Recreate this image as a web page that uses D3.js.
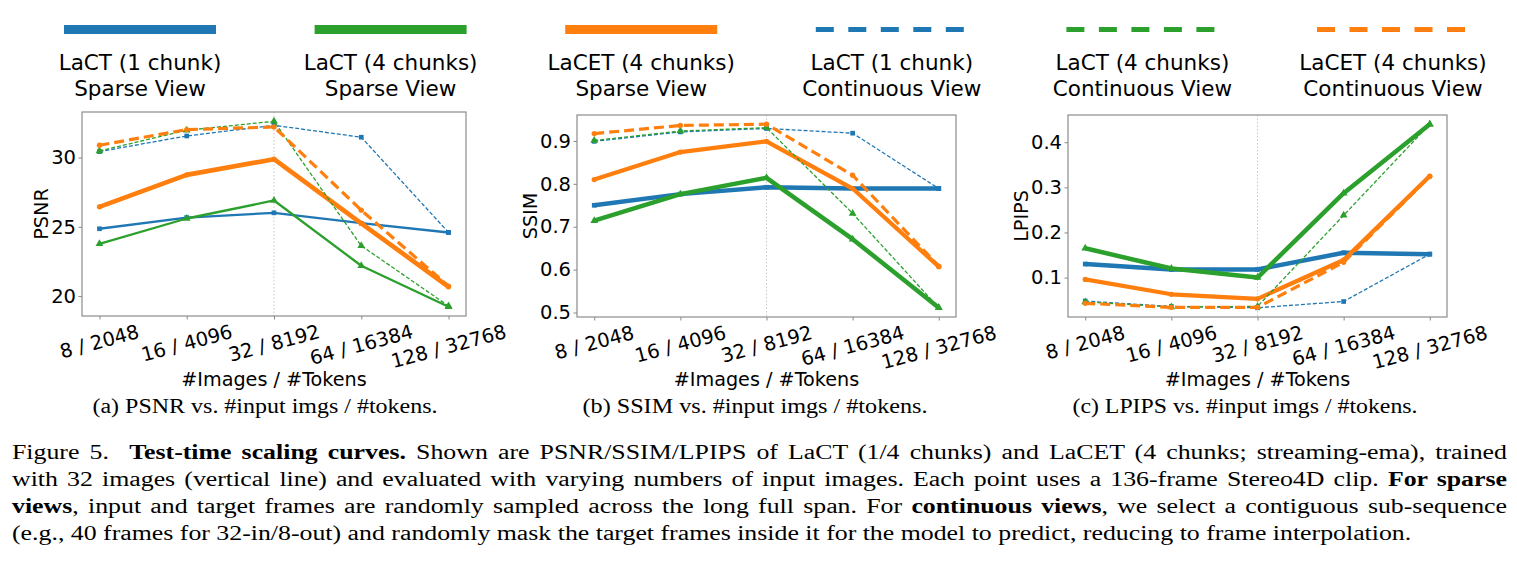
<!DOCTYPE html>
<html>
<head>
<meta charset="utf-8">
<script src="https://cdn.jsdelivr.net/npm/d3@7"></script>
<style>
  body { margin: 0; background: #fff; }
  svg { display: block; }
</style>
</head>
<body>
<svg id="fig" width="1517" height="575"></svg>
<script>
// categories on the x axis (#images / #tokens)
const categories = ["8 / 2048", "16 / 4096", "32 / 8192", "64 / 16384", "128 / 32768"];

// series order: LaCT 1 sparse, LaCT 4 sparse, LaCET 4 sparse, LaCT 1 cont, LaCT 4 cont, LaCET 4 cont
const legendTop = ["LaCT (1 chunk)", "LaCT (4 chunks)", "LaCET (4 chunks)", "LaCT (1 chunk)", "LaCT (4 chunks)", "LaCET (4 chunks)"];
const legendBottom = ["Sparse View", "Sparse View", "Sparse View", "Continuous View", "Continuous View", "Continuous View"];

const psnrValues = [
  [24.86, 25.67, 26.01, 25.26, 24.59],
  [23.77, 25.60, 26.90, 22.19, 19.23],
  [26.44, 28.75, 29.88, 25.25, 20.67],
  [30.43, 31.56, 32.33, 31.47, 24.59],
  [30.48, 31.97, 32.62, 23.63, 19.28],
  [30.89, 32.02, 32.21, 26.20, 20.72]
];
const ssimValues = [
  [0.750, 0.776, 0.792, 0.789, 0.789],
  [0.714, 0.776, 0.814, 0.671, 0.511],
  [0.810, 0.874, 0.899, 0.789, 0.607],
  [0.899, 0.921, 0.929, 0.918, 0.789],
  [0.901, 0.923, 0.931, 0.731, 0.511],
  [0.917, 0.936, 0.939, 0.820, 0.608]
];
const lpipsValues = [
  [0.130, 0.118, 0.118, 0.155, 0.152],
  [0.165, 0.120, 0.100, 0.287, 0.440],
  [0.096, 0.063, 0.053, 0.139, 0.325],
  [0.048, 0.036, 0.033, 0.047, 0.152],
  [0.046, 0.035, 0.036, 0.238, 0.440],
  [0.043, 0.034, 0.034, 0.134, 0.324]
];

const psnrTicks = [20, 25, 30];
const ssimTicks = [0.5, 0.6, 0.7, 0.8, 0.9];
const lpipsTicks = [0.1, 0.2, 0.3, 0.4];

const subCaptions = [
  "(a) PSNR vs. #input imgs / #tokens.",
  "(b) SSIM vs. #input imgs / #tokens.",
  "(c) LPIPS vs. #input imgs / #tokens."
];

// styles
const blue = "#1f77b4", green = "#2ca02c", orange = "#ff7f0e";
const seriesColors = [blue, green, orange, blue, green, orange];
const seriesDashes = [null, null, null, "4,2", "4,2", "10,5"];
const seriesSymbols = [d3.symbolSquare, d3.symbolTriangle, d3.symbolCircle, d3.symbolSquare, d3.symbolTriangle, d3.symbolCircle];

const panels = [
  { values: psnrValues, ticks: psnrTicks, fmt: d3.format("d"), label: "PSNR",
    left: 82, right: 466, top: 112, bottom: 316, labelX: 41, capX: 265,
    widths: [2.3, 2.3, 4.6, 1.3, 1.3, 3.2] },
  { values: ssimValues, ticks: ssimTicks, fmt: d3.format(".1f"), label: "SSIM",
    left: 577, right: 956, top: 115, bottom: 317, labelX: 530, capX: 755,
    widths: [4.5, 4.5, 4.2, 1.3, 1.3, 3.2] },
  { values: lpipsValues, ticks: lpipsTicks, fmt: d3.format(".1f"), label: "LPIPS",
    left: 1068, right: 1447, top: 115, bottom: 317, labelX: 1021, capX: 1245,
    widths: [4.5, 4.5, 4.2, 1.3, 1.3, 3.2] }
];

const svg = d3.select("#fig");
svg.append("rect").attr("width", 1517).attr("height", 575).attr("fill", "#fff");

const tickFont = "DejaVu Sans";
const tickSize = 19.5;
const serif = "Liberation Serif, Times New Roman, serif";

panels.forEach((p, pi) => {
  const g = svg.append("g");

  const x = d3.scalePoint().domain(categories).range([p.left, p.right]).padding(0.2);
  const all = p.values.flat();
  const lo = d3.min(all), hi = d3.max(all), pad = (hi - lo) * 0.05;
  const y = d3.scaleLinear().domain([lo - pad, hi + pad]).range([p.bottom, p.top]);

  // training length marker (32 images)
  g.append("line")
    .attr("x1", x(categories[2])).attr("x2", x(categories[2]))
    .attr("y1", p.top).attr("y2", p.bottom)
    .attr("stroke", "#c8c8c8").attr("stroke-width", 1).attr("stroke-dasharray", "1.5,2");

  // y axis
  const yAxis = g.append("g")
    .attr("transform", `translate(${p.left},0)`)
    .call(d3.axisLeft(y).tickValues(p.ticks).tickFormat(p.fmt).tickSize(3.5).tickSizeOuter(0).tickPadding(2.5));
  yAxis.select(".domain").remove();
  yAxis.selectAll("line").attr("stroke", "#888");
  yAxis.selectAll("text").attr("font-family", tickFont).attr("font-size", tickSize).attr("fill", "#000");

  // x axis with rotated labels
  const xAxis = g.append("g")
    .attr("transform", `translate(0,${p.bottom})`)
    .call(d3.axisBottom(x).tickSize(3.5).tickSizeOuter(0));
  xAxis.select(".domain").remove();
  xAxis.selectAll("line").attr("stroke", "#888");
  xAxis.selectAll("text").remove();

  const rot = 15 * Math.PI / 180;
  categories.forEach(c => {
    const t = g.append("text")
      .attr("font-family", tickFont).attr("font-size", tickSize)
      .attr("text-anchor", "middle").attr("dy", "0.35em")
      .text(c);
    const w = t.node().getComputedTextLength();
    const h = tickSize * 1.164;
    const H = w * Math.sin(rot) + h * Math.cos(rot);
    const cy = p.bottom + 4 + H / 2;
    t.attr("transform", `translate(${x(c)},${cy}) rotate(-15)`);
  });

  // frame
  g.append("rect")
    .attr("x", p.left).attr("y", p.top)
    .attr("width", p.right - p.left).attr("height", p.bottom - p.top)
    .attr("fill", "none").attr("stroke", "#8c8c8c").attr("stroke-width", 1.2);

  // series
  const line = d3.line().x((d, i) => x(categories[i])).y(d => y(d));
  p.values.forEach((vals, si) => {
    g.append("path")
      .attr("d", line(vals))
      .attr("fill", "none")
      .attr("stroke", seriesColors[si])
      .attr("stroke-width", p.widths[si])
      .attr("stroke-dasharray", seriesDashes[si])
      .attr("stroke-linejoin", "round");
    g.selectAll(null).data(vals).enter().append("path")
      .attr("d", d3.symbol().type(seriesSymbols[si]).size(si % 3 === 1 ? 26 : 22))
      .attr("transform", (d, i) => `translate(${x(categories[i])},${y(d)})`)
      .attr("fill", seriesColors[si]);
  });

  // axis labels
  g.append("text")
    .attr("font-family", tickFont).attr("font-size", 19.2)
    .attr("text-anchor", "middle")
    .attr("x", (p.left + p.right) / 2).attr("y", 386)
    .text("#Images / #Tokens");
  g.append("text")
    .attr("font-family", tickFont).attr("font-size", 19.2)
    .attr("text-anchor", "middle")
    .attr("transform", `translate(${p.labelX + 7},${(p.top + p.bottom) / 2}) rotate(-90)`)
    .text(p.label);

  // sub caption, stretched to the printed width
  g.append("text")
    .attr("font-family", serif).attr("font-size", 20.5)
    .attr("text-anchor", "middle")
    .attr("x", p.capX).attr("y", 413)
    .attr("textLength", 345).attr("lengthAdjust", "spacingAndGlyphs")
    .text(subCaptions[pi]);
});

// legend across the top
const legend = svg.append("g");
const legendX = d3.scalePoint().domain(d3.range(6)).range([140, 1393]);
d3.range(6).forEach(i => {
  const cx = legendX(i);
  const dashed = i >= 3;
  legend.append("line")
    .attr("x1", cx - 76).attr("x2", cx + 76)
    .attr("y1", 29.5).attr("y2", 29.5)
    .attr("stroke", seriesColors[i])
    .attr("stroke-width", dashed ? 5 : 9)
    .attr("stroke-dasharray", dashed ? "18,14.5" : null);
  legend.append("text")
    .attr("font-family", "DejaVu Sans").attr("font-size", 21.5)
    .attr("text-anchor", "middle").attr("x", cx).attr("y", 69.5)
    .text(legendTop[i]);
  legend.append("text")
    .attr("font-family", "DejaVu Sans").attr("font-size", 21.5)
    .attr("text-anchor", "middle").attr("x", cx).attr("y", 95.5)
    .text(legendBottom[i]);
});

// figure caption, justified
const captionLines = [
  [["Figure 5.  ", false], ["Test-time scaling curves.", true], [" Shown are PSNR/SSIM/LPIPS of LaCT (1/4 chunks) and LaCET (4 chunks; streaming-ema), trained", false]],
  [["with 32 images (vertical line) and evaluated with varying numbers of input images. Each point uses a 136-frame Stereo4D clip. ", false], ["For sparse", true]],
  [["views", true], [", input and target frames are randomly sampled across the long full span. For ", false], ["continuous views", true], [", we select a contiguous sub-sequence", false]],
  [["(e.g., 40 frames for 32-in/8-out) and randomly mask the target frames inside it for the model to predict, reducing to frame interpolation.", false]]
];
const capLeft = 12, capRight = 1507, lastLineEnd = 1412;
const cap = svg.append("g");
const capTexts = captionLines.map((segs, li) => {
  const t = cap.append("text")
    .attr("font-family", serif)
    .attr("font-size", 21.6)
    .attr("x", 0).attr("y", 459.5 + li * 26.8)
    .attr("xml:space", "preserve");
  segs.forEach(([s, b]) => {
    t.append("tspan").attr("font-weight", b ? "bold" : null).text(s);
  });
  return t;
});
// the printed caption is wider than the font's natural set width
const sx = (lastLineEnd - capLeft) / capTexts[3].node().getComputedTextLength();
cap.attr("transform", `translate(${capLeft},0) scale(${sx},1)`);
capTexts.forEach((t, li) => {
  if (li === capTexts.length - 1) return;
  const natural = t.node().getComputedTextLength();
  const spaces = captionLines[li].map(s => s[0]).join("").split(" ").length - 1;
  t.attr("word-spacing", ((capRight - capLeft) / sx - natural) / spaces);
});
</script>
</body>
</html>
